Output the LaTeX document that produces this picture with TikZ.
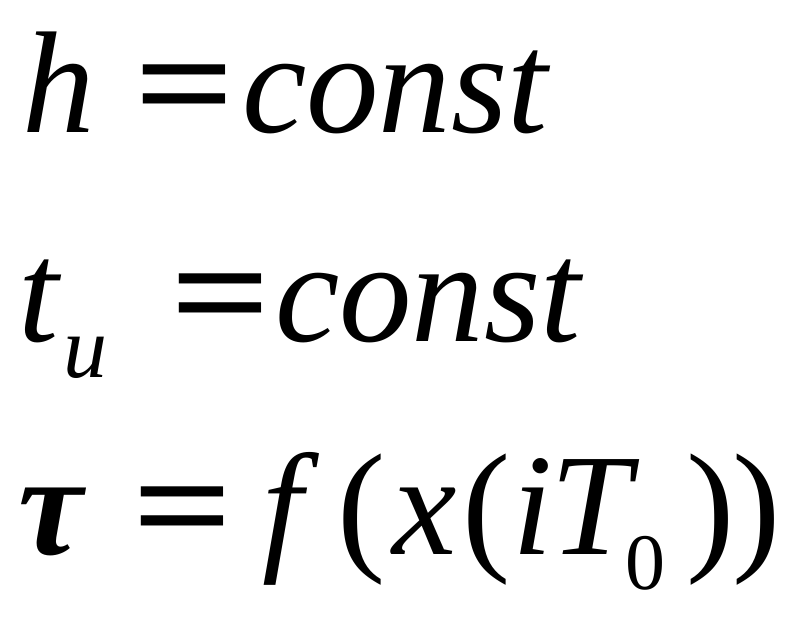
\documentclass[tikz,border=0pt]{standalone}
\usepackage{fontspec}
\setmainfont{Liberation Serif}
\begin{document}
\begin{tikzpicture}[x=1pt,y=1pt,
  g/.style={inner sep=0pt,outer sep=0pt,anchor=base west,font=\fontsize{145}{150}\selectfont\itshape},
  gu/.style={inner sep=0pt,outer sep=0pt,anchor=base west,font=\fontsize{145}{150}\selectfont\upshape},
  eqs/.style={inner sep=0pt,outer sep=0pt,anchor=base west,font=\fontsize{145}{150}\selectfont\upshape\bfseries},
  sub/.style={inner sep=0pt,outer sep=0pt,anchor=base west,font=\fontsize{88}{90}\selectfont\itshape},
  subu/.style={inner sep=0pt,outer sep=0pt,anchor=base west,font=\fontsize{80}{90}\selectfont\upshape}]
\useasboundingbox (0,0) rectangle (801,624);
% line 1
\node[g] (h) at (22,491) {h};
\node[eqs] (eq1) at (134,491) {\scalebox{1.22}[1]{=}};
\node[g] (c1) at (242,491) {const};
% line 2
\node[g] (t) at (18,282) {t};
\node[sub] (u) at (63,246) {u};
\node[eqs] (eq2) at (170,282) {\scalebox{1.22}[1]{=}};
\node[g] (c2) at (275,282) {const};
% line 3
\node[g,font=\fontsize{145}{150}\selectfont\itshape\bfseries] (tau) at (18,69) {τ};
\node[eqs] (eq3) at (132,69) {\scalebox{1.22}[1]{=}};
\node[g] (f) at (262,69) {f};
\node[gu] (p1) at (337,69) {(};
\node[g] (x) at (392,69) {x};
\node[gu] (p2) at (462,69) {(};
\node[g] (i) at (512,69) {i};
\node[g] (T) at (550,69) {T};
\node[subu] (z) at (625,34) {0};
\node[gu] (p3) at (686,69) {)};
\node[gu] (p4) at (732,69) {)};
\end{tikzpicture}
\end{document}
